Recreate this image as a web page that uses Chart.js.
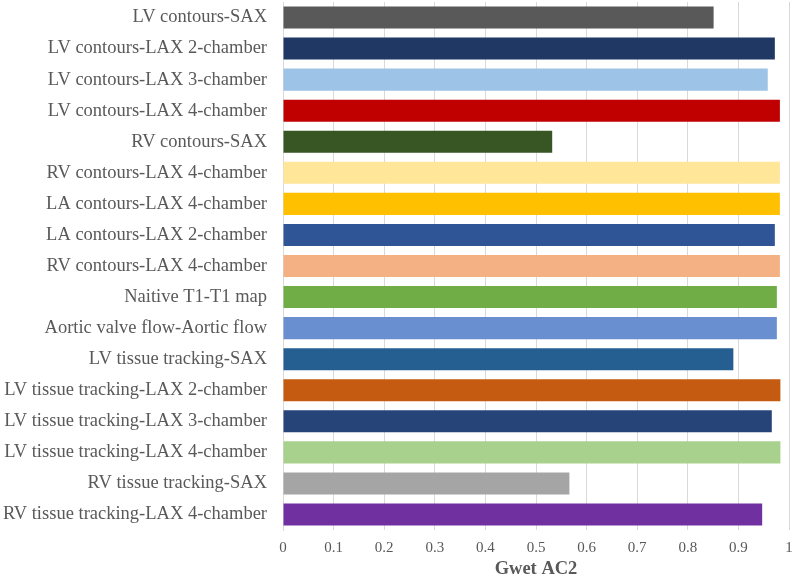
<!DOCTYPE html>
<html lang="en">
<head>
    <meta charset="UTF-8">
    <script src="https://cdn.jsdelivr.net/npm/chart.js@4.4.1/dist/chart.umd.min.js"></script>
    <title>Gwet AC2</title>
    <style>
        html, body { margin: 0; padding: 0; background: #fff; }
        #wrap { width: 800px; height: 578px; }
    </style>
</head>
<body>
    <div id="wrap"><canvas id="myChart" width="800" height="578"></canvas></div>

    <script>
        // data
        const categories = [
            'LV contours-SAX',
            'LV contours-LAX 2-chamber',
            'LV contours-LAX 3-chamber',
            'LV contours-LAX 4-chamber',
            'RV contours-SAX',
            'RV contours-LAX 4-chamber',
            'LA contours-LAX 4-chamber',
            'LA contours-LAX 2-chamber',
            'RV contours-LAX 4-chamber',
            'Naitive T1-T1 map',
            'Aortic valve flow-Aortic flow',
            'LV tissue tracking-SAX',
            'LV tissue tracking-LAX 2-chamber',
            'LV tissue tracking-LAX 3-chamber',
            'LV tissue tracking-LAX 4-chamber',
            'RV tissue tracking-SAX',
            'RV tissue tracking-LAX 4-chamber'
        ];
        const gwetAC2 = [0.851, 0.972, 0.958, 0.982, 0.532, 0.982, 0.982, 0.972, 0.982,
                         0.976, 0.976, 0.890, 0.983, 0.966, 0.983, 0.566, 0.947];
        const barColors = ['#595959', '#1f3864', '#9dc3e6', '#c00000', '#375623', '#ffe699',
                           '#ffc000', '#2f5597', '#f4b183', '#70ad47', '#6a8fd0', '#255e91',
                           '#c55a11', '#264478', '#a9d18e', '#a5a5a5', '#7030a0'];
        const xTicks = [0, 0.1, 0.2, 0.3, 0.4, 0.5, 0.6, 0.7, 0.8, 0.9, 1];

        const serif = "'Liberation Serif', 'Times New Roman', serif";
        const textColor = '#595959';

        const ctx = document.getElementById('myChart').getContext('2d');
        const myChart = new Chart(ctx, {
            type: 'bar',
            data: {
                labels: categories,
                datasets: [{
                    label: 'Gwet AC2',
                    data: gwetAC2,
                    backgroundColor: barColors,
                    borderWidth: 0,
                    categoryPercentage: 0.71,
                    barPercentage: 1
                }]
            },
            options: {
                indexAxis: 'y',
                responsive: false,
                animation: false,
                layout: { padding: { top: 2, right: 11, left: 0, bottom: 0 } },
                plugins: {
                    legend: { display: false },
                    tooltip: { enabled: false }
                },
                scales: {
                    x: {
                        min: 0,
                        max: 1,
                        afterBuildTicks: (axis) => { axis.ticks = xTicks.map(v => ({ value: v })); },
                        afterFit: (axis) => {
                            axis.height = 48;
                            axis.paddingLeft = 0;
                            axis.paddingRight = 0;
                        },
                        grid: { color: '#d9d9d9', lineWidth: 1, drawTicks: false },
                        border: { display: false },
                        ticks: {
                            color: textColor,
                            font: { family: serif, size: 15 },
                            padding: 9,
                            callback: (v) => String(Math.round(v * 10) / 10)
                        },
                        title: {
                            display: true,
                            text: 'Gwet AC2',
                            color: textColor,
                            font: { family: serif, size: 18.5, weight: 'bold', lineHeight: 1 },
                            padding: { top: 2, bottom: 0 }
                        }
                    },
                    y: {
                        afterFit: (axis) => {
                            axis.width = 283;
                            axis.paddingTop = 0;
                            axis.paddingBottom = 0;
                        },
                        grid: { display: false, drawTicks: false },
                        border: { display: true, color: '#d9d9d9', width: 1 },
                        ticks: {
                            color: textColor,
                            font: { family: serif, size: 18.5 },
                            padding: 16,
                            autoSkip: false
                        }
                    }
                }
            }
        });
    </script>
</body>
</html>
